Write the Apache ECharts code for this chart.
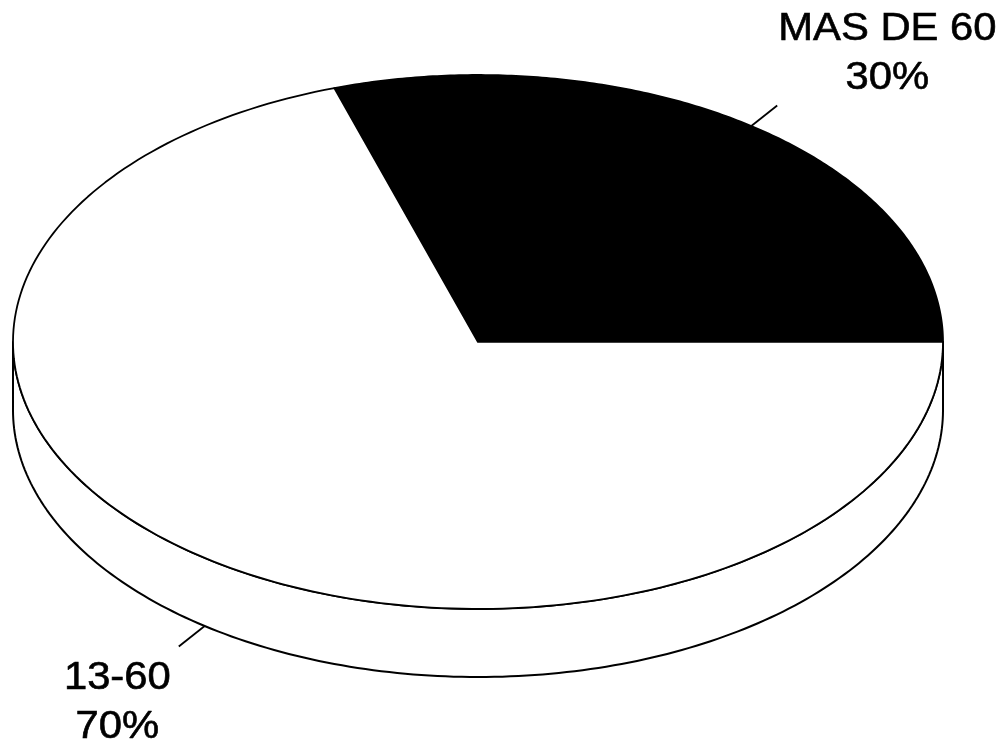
<!DOCTYPE html>
<html><head><meta charset="utf-8">
<script src="https://cdn.jsdelivr.net/npm/echarts@6/dist/echarts.min.js"></script>
<style>html,body{margin:0;padding:0;background:#fff}#c{width:1008px;height:742px}</style>
</head><body><div id="c"></div>
<script>
// ---- data ----
const categories = ['MAS DE 60', '13-60'];
const values = [30, 70];
const colors = ['#000000', '#ffffff'];

// ---- style constants ----
const depth = 0.255;          // pie thickness in y-axis units
const FONT = '"Liberation Sans", Arial, Helvetica, sans-serif';
const FS = 38, SX = 1.1, LH = 49;
const LEADER = 33;

const total = values.reduce((a, b) => a + b, 0);
const cum = []; let acc = 0; values.forEach(v => { cum.push(acc); acc += v; });

const mctx = document.createElement('canvas').getContext('2d');
mctx.font = FS + 'px ' + FONT;
function textWidth(lines) { return Math.max(...lines.map(l => mctx.measureText(l).width)) * SX; }

function arcPts(api, a0, a1, yOff, n) {
  const pts = [];
  for (let i = 0; i <= n; i++) {
    const t = (a0 + (a1 - a0) * i / n) * Math.PI / 180;
    pts.push(api.coord([Math.cos(t), Math.sin(t) - yOff]));
  }
  return pts;
}

function renderSide(params, api) {
  if (params.dataIndex !== 0) return null;
  const top = arcPts(api, 180, 360, 0, 180);
  const bot = arcPts(api, 360, 180, depth, 180);
  return {
    type: 'polygon',
    shape: { points: top.concat(bot) },
    style: { fill: '#ffffff', stroke: '#000000', lineWidth: 2, lineJoin: 'round' }
  };
}

function renderSlice(params, api) {
  const i = params.dataIndex;
  const a0 = cum[i] / total * 360;
  const a1 = (cum[i] + values[i]) / total * 360;
  const c = api.coord([0, 0]);
  const pts = [c].concat(arcPts(api, a0, a1, 0, 200));
  const mid = (a0 + a1) / 2 * Math.PI / 180;
  const upper = Math.sin(mid) >= 0;
  const yOff = upper ? 0 : depth;
  const start = api.coord([Math.cos(mid), Math.sin(mid) - yOff]);
  const cen = api.coord([0, -yOff]);
  let dx = start[0] - cen[0], dy = start[1] - cen[1];
  const len = Math.hypot(dx, dy); dx /= len; dy /= len;
  const end = [start[0] + dx * LEADER, start[1] + dy * LEADER];
  const lines = [categories[i], Math.round(values[i] / total * 100) + '%'];
  const w = textWidth(lines);
  const tx = dx > 0 ? end[0] + w / 2 + 1 : end[0] - w / 2 - 8;
  const ty = dy < 0 ? end[1] - 52 : end[1] + 57;
  return {
    type: 'group',
    children: [
      {
        type: 'polygon',
        shape: { points: pts },
        style: { fill: colors[i], stroke: '#000000', lineWidth: 1.8, lineJoin: 'round' }
      },
      {
        type: 'line',
        shape: { x1: start[0], y1: start[1], x2: end[0], y2: end[1] },
        style: { stroke: '#000000', lineWidth: 1.8 }
      },
      {
        type: 'text',
        x: tx, y: ty, scaleX: SX,
        style: {
          text: lines.join('\n'),
          fontSize: FS, fontFamily: FONT, fill: '#000000',
          stroke: '#000000', lineWidth: 0.6,
          align: 'center', verticalAlign: 'middle',
          textAlign: 'center', textVerticalAlign: 'middle',
          lineHeight: LH
        }
      }
    ]
  };
}

const chart = echarts.init(document.getElementById('c'), null, { renderer: 'canvas' });
chart.setOption({
  backgroundColor: '#ffffff',
  animation: false,
  grid: { left: 13, right: 65, top: 75, bottom: 65 },
  xAxis: { type: 'value', min: -1, max: 1, show: false },
  yAxis: { type: 'value', min: -1 - depth, max: 1, show: false },
  series: [
    { type: 'custom', name: 'side', renderItem: renderSide, data: values.map((v, i) => [i, v]), silent: true },
    { type: 'custom', name: 'slices', renderItem: renderSlice, data: values.map((v, i) => [i, v]), silent: true }
  ]
});
</script>
</body></html>
